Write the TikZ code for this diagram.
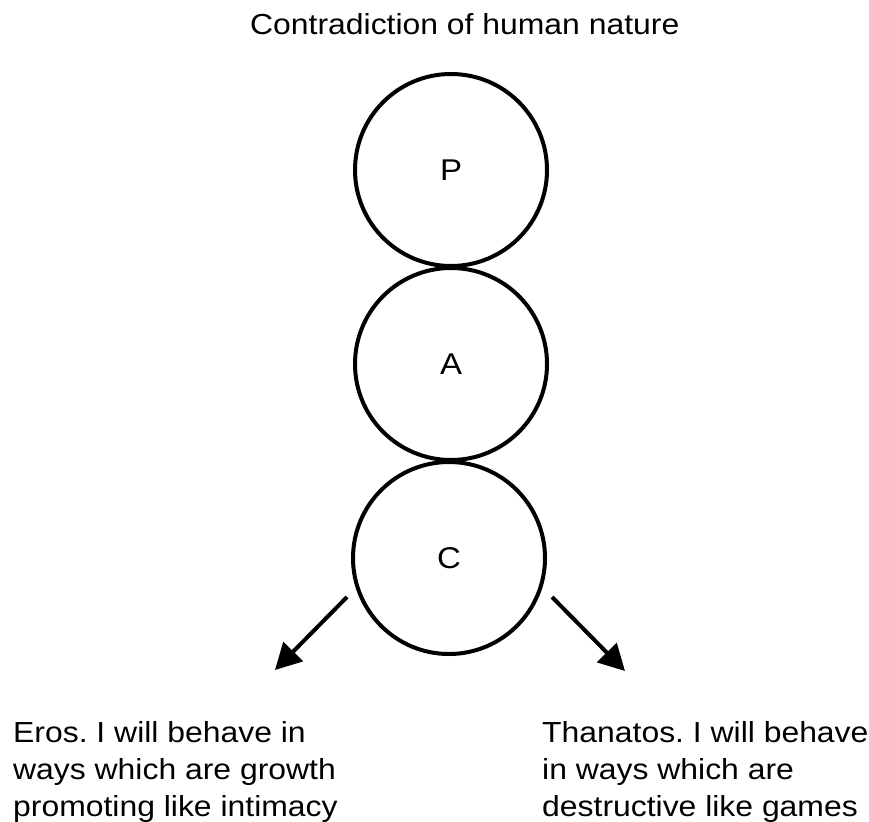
\documentclass[tikz,border=0pt]{standalone}
\usepackage{fontspec}
\setmainfont[FakeStretch=1.1]{Liberation Sans}
\usetikzlibrary{arrows.meta}
\frenchspacing
\begin{document}
\begin{tikzpicture}[x=1pt,y=-1pt,
  ring/.style={circle, draw, line width=4pt, minimum size=192pt, inner sep=0pt,
    font=\fontsize{30}{34}\selectfont},
  branch/.style={line width=4pt, -{Triangle[length=26pt,width=27pt]}},
  caption/.style={inner sep=0pt, align=left, anchor=north west,
    font=\fontsize{29}{37}\selectfont},
  heading/.style={inner sep=0pt, anchor=base west, font=\fontsize{29}{34}\selectfont}]
  \useasboundingbox (0,0) rectangle (869,821);

  \node[heading] (title) at (250,35) {Contradiction of human nature};

  % the three stacked circles
  \node[ring] (P) at (451,170) {P};
  \node[ring] (A) at (451,364) {A};
  \node[ring] (C) at (449,558) {C};

  % branches leaving the lowest circle
  \coordinate (lstart) at (347,597);
  \coordinate (rstart) at (552,597);
  \coordinate (ltip) at (275,670);
  \coordinate (rtip) at (625,671);
  \draw[branch] (lstart) -- (ltip);
  \draw[branch] (rstart) -- (rtip);

  % the two outcomes
  \node[caption] (eros) at (13,721) {Eros. I will behave in\\ways which are growth\\promoting like intimacy};
  \node[caption] (thanatos) at (542,721) {Thanatos. I will behave\\in ways which are\\destructive like games};
\end{tikzpicture}
\end{document}
